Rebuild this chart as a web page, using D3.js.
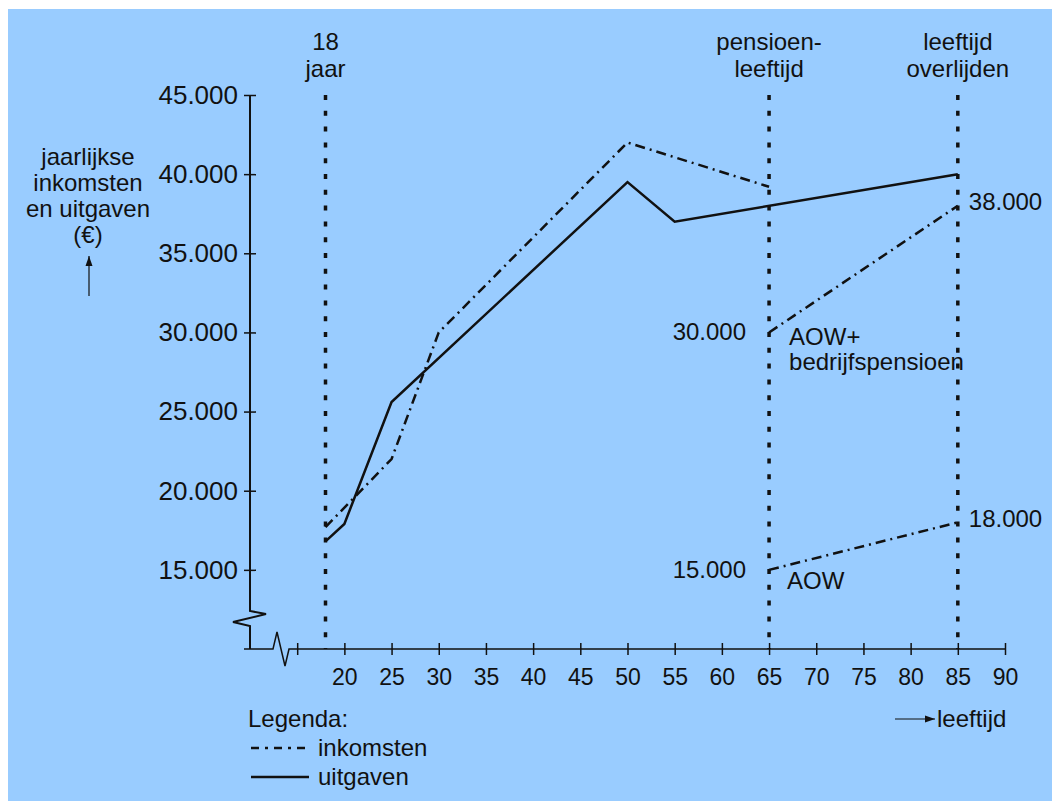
<!DOCTYPE html>
<html>
<head>
<meta charset="utf-8">
<script src="https://cdn.jsdelivr.net/npm/d3@7"></script>
<style>
  body { margin: 0; background: #fff; }
  text { font-family: "Liberation Sans", Arial, sans-serif; fill: #111; }
</style>
</head>
<body>
<script>
// levensloop: inkomsten en uitgaven per leeftijd
var uitgavenLeeftijd = [18, 20, 25, 50, 55, 85];
var uitgaven = [16800, 17900, 25600, 39500, 37000, 40000];

var inkomstenLeeftijd = [18, 25, 30, 50, 65];
var inkomsten = [17700, 22000, 30000, 42000, 39200];

// na pensioen
var pensioenLeeftijd = [65, 85];
var aowPlusBedrijf = [30000, 38000];
var aow = [15000, 18000];

var markers = [18, 65, 85];
var markerLabels = [["18", "jaar"], ["pensioen-", "leeftijd"], ["leeftijd", "overlijden"]];

var xTicks = [15, 20, 25, 30, 35, 40, 45, 50, 55, 60, 65, 70, 75, 80, 85, 90];
var yTicks = [15000, 20000, 25000, 30000, 35000, 40000, 45000];

var svg = d3.select("body").append("svg")
            .attr("width", 1052)
            .attr("height", 801);

svg.append("rect")
   .attr("x", 8).attr("y", 9)
   .attr("width", 1044).attr("height", 792)
   .attr("fill", "#99ccff");

var x = d3.scaleLinear().domain([10, 90]).range([250, 1005]);
var y = d3.scaleLinear().domain([10000, 45000]).range([649, 95]);

var fmt = function (d) { return d3.format(",")(d).replace(/,/g, "."); };

// x-as (domein zelf getekend vanwege de onderbreking)
var xAxis = svg.append("g")
   .attr("transform", "translate(0," + y(10000) + ")")
   .call(d3.axisBottom(x).tickValues(xTicks)
           .tickFormat(function (d) { return d === 15 ? "" : d; })
           .tickSize(6).tickPadding(14));
xAxis.select(".domain").remove();
xAxis.selectAll(".tick line").attr("y1", -6).attr("stroke", "#111").attr("stroke-width", 1.5);
xAxis.selectAll(".tick text").attr("font-size", 23).attr("font-family", "Liberation Sans, Arial, sans-serif").attr("fill", "#111");

var yAxis = svg.append("g")
   .attr("transform", "translate(" + x(10) + ",0)")
   .call(d3.axisLeft(y).tickValues(yTicks).tickFormat(fmt).tickSize(6).tickPadding(6));
yAxis.select(".domain").remove();
yAxis.selectAll(".tick line").attr("x1", 6).attr("stroke", "#111").attr("stroke-width", 1.5);
yAxis.selectAll(".tick text").attr("font-size", 26).attr("font-family", "Liberation Sans, Arial, sans-serif").attr("fill", "#111");

// as-lijnen met onderbreking
var ax = x(10), ay = y(10000);
svg.append("path")
   .attr("d", "M" + ax + "," + y(45000) + "V" + (ay - 38) +
              "L" + (ax + 16) + "," + (ay - 35) +
              "L" + (ax - 17) + "," + (ay - 27) +
              "L" + ax + "," + (ay - 23) + "V" + ay)
   .attr("fill", "none").attr("stroke", "#111").attr("stroke-width", 2);
svg.append("path")
   .attr("d", "M" + (ax - 6) + "," + ay + "H" + (ax + 23) +
              "L" + (ax + 27) + "," + (ay - 17) +
              "L" + (ax + 35) + "," + (ay + 17) +
              "L" + (ax + 39) + "," + ay + "H" + x(90))
   .attr("fill", "none").attr("stroke", "#111").attr("stroke-width", 1.5);

// gestippelde verticale lijnen
svg.selectAll(".marker")
   .data(markers)
   .enter().append("line")
   .attr("x1", function (d) { return x(d); })
   .attr("x2", function (d) { return x(d); })
   .attr("y1", y(45000))
   .attr("y2", y(10000))
   .attr("stroke", "#111")
   .attr("stroke-width", 3.5)
   .attr("stroke-dasharray", "5,10.8");

markers.forEach(function (m, i) {
  var t = svg.append("text")
     .attr("x", x(m)).attr("text-anchor", "middle")
     .attr("font-size", 24);
  markerLabels[i].forEach(function (s, j) {
    t.append("tspan").attr("x", x(m)).attr("y", 50 + j * 27).text(s);
  });
});

var line = d3.line()
   .x(function (d) { return x(d[0]); })
   .y(function (d) { return y(d[1]); });

var dashDot = "10,5,2,5";

svg.append("path")
   .datum(d3.zip(uitgavenLeeftijd, uitgaven))
   .attr("d", line)
   .attr("fill", "none").attr("stroke", "#111").attr("stroke-width", 2.5);

[d3.zip(inkomstenLeeftijd, inkomsten),
 d3.zip(pensioenLeeftijd, aowPlusBedrijf),
 d3.zip(pensioenLeeftijd, aow)].forEach(function (pts) {
  svg.append("path")
     .datum(pts)
     .attr("d", line)
     .attr("fill", "none").attr("stroke", "#111").attr("stroke-width", 2.5)
     .attr("stroke-dasharray", dashDot);
});

// waardelabels
function label(tx, ty, s, anchor) {
  svg.append("text").attr("x", tx).attr("y", ty)
     .attr("text-anchor", anchor || "start")
     .attr("font-size", 24).text(s);
}
label(x(65) - 23, y(aowPlusBedrijf[0]) + 8, fmt(aowPlusBedrijf[0]), "end");
label(x(65) - 23, y(aow[0]) + 8, fmt(aow[0]), "end");
label(x(85) + 11, y(aowPlusBedrijf[1]) + 4, fmt(aowPlusBedrijf[1]));
label(x(85) + 11, y(aow[1]) + 5, fmt(aow[1]));
label(x(65) + 20, y(aowPlusBedrijf[0]) + 13, "AOW+");
label(x(65) + 20, y(aowPlusBedrijf[0]) + 38, "bedrijfspensioen");
label(x(65) + 18, y(aow[0]) + 19, "AOW");

// y-as titel
var yt = svg.append("text").attr("text-anchor", "middle").attr("font-size", 24);
["jaarlijkse", "inkomsten", "en uitgaven", "(\u20ac)"].forEach(function (s, j) {
  yt.append("tspan").attr("x", 88).attr("y", 165 + j * 26).text(s);
});

svg.append("defs").append("marker")
   .attr("id", "pijl").attr("viewBox", "0 0 10 10")
   .attr("refX", 10).attr("refY", 5)
   .attr("markerWidth", 10).attr("markerHeight", 10)
   .attr("markerUnits", "userSpaceOnUse")
   .attr("orient", "auto")
   .append("path").attr("d", "M0,1.5L10,5L0,8.5Z").attr("fill", "#111");

svg.append("line")
   .attr("x1", 89).attr("x2", 89).attr("y1", 296).attr("y2", 256)
   .attr("stroke", "#111").attr("stroke-width", 1.2)
   .attr("marker-end", "url(#pijl)");

svg.append("line")
   .attr("x1", 895).attr("x2", 935).attr("y1", 719).attr("y2", 719)
   .attr("stroke", "#111").attr("stroke-width", 1.2)
   .attr("marker-end", "url(#pijl)");
label(937, 727, "leeftijd");

// legenda
label(248, 727, "Legenda:");
svg.append("line").attr("x1", 251).attr("x2", 309).attr("y1", 748).attr("y2", 748)
   .attr("stroke", "#111").attr("stroke-width", 2.5).attr("stroke-dasharray", "8,6,3,6");
label(318, 756, "inkomsten");
svg.append("line").attr("x1", 251).attr("x2", 309).attr("y1", 777).attr("y2", 777)
   .attr("stroke", "#111").attr("stroke-width", 2.5);
label(318, 785, "uitgaven");
</script>
</body>
</html>
